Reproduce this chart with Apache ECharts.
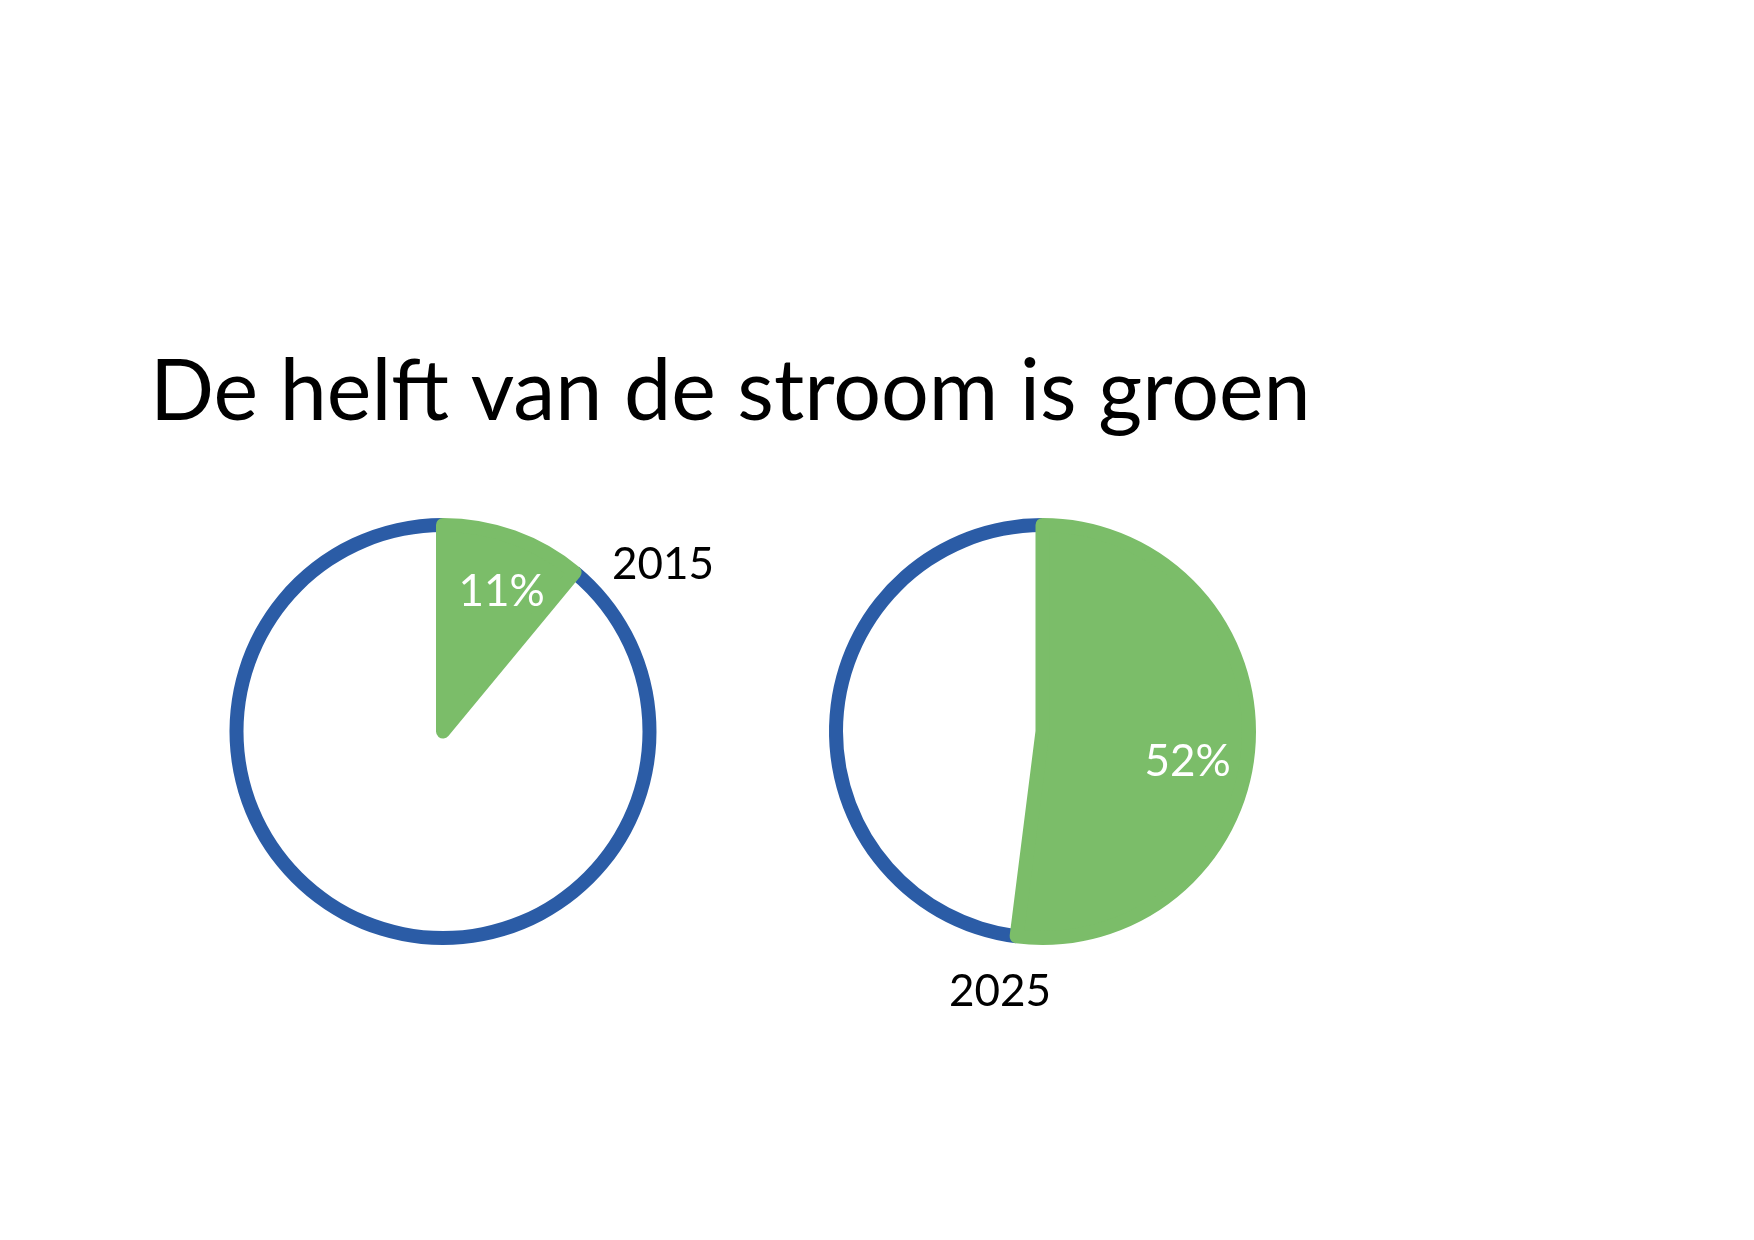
<!DOCTYPE html>
<html><head><meta charset="utf-8">
<script src="https://cdn.jsdelivr.net/npm/echarts@6/dist/echarts.min.js"></script>
<style>html,body{margin:0;padding:0;background:#fff}#c{width:1754px;height:1240px}</style>
</head><body><div id="c"></div>
<script>
const titleText = 'De helft van de stroom is groen';
const years = ['2015', '2025'];
const greenShare = [11, 52];
const otherShare = [89, 48];

const GREEN = '#7BBD69', BLUE = '#2B5CA6';
const centers = [[443, 731.5], [1042.5, 731.5]];
const labelOffsets = [[7, 4], [-7, 21]];
const R = 213.5, RING = 14;
const FONT = 'Lato';

const series = [];
years.forEach((y, i) => {
  const c = centers[i];
  // ring (blue only along non-green part)
  series.push({
    type: 'pie', center: c, radius: [R - RING, R], startAngle: 90, clockwise: true,
    silent: true, label: { show: false }, labelLine: { show: false },
    data: [
      { name: 'groen', value: greenShare[i], itemStyle: { color: 'rgba(0,0,0,0)' } },
      { name: 'overig', value: otherShare[i], itemStyle: { color: BLUE } }
    ]
  });
  // filled green slice (with thick green outline, like the original)
  series.push({
    type: 'pie', center: c, radius: [0, R - RING / 2], startAngle: 90, clockwise: true,
    silent: true, label: { show: false }, labelLine: { show: false },
    data: [
      { name: 'groen', value: greenShare[i], itemStyle: { color: GREEN, borderColor: GREEN, borderWidth: RING, borderJoin: 'round' } },
      { name: 'overig', value: otherShare[i], itemStyle: { color: 'rgba(0,0,0,0)', borderWidth: 0 } }
    ]
  });
  // percent labels
  series.push({
    type: 'pie', center: c, radius: [R * 0.55, R * 0.85], startAngle: 90, clockwise: true,
    silent: true, labelLine: { show: false },
    data: [
      { name: 'groen', value: greenShare[i], itemStyle: { color: 'rgba(0,0,0,0)' },
        label: { show: true, position: 'inside', offset: labelOffsets[i], formatter: p => p.value + '%', color: '#fff', fontSize: 44, fontFamily: FONT } },
      { name: 'overig', value: otherShare[i], itemStyle: { color: 'rgba(0,0,0,0)' }, label: { show: false } }
    ]
  });
});

const chart = echarts.init(document.getElementById('c'), null, { renderer: 'canvas' });
chart.setOption({
  backgroundColor: '#fff',
  animation: false,
  series,
  graphic: [
    { type: 'text', left: 150, top: 351, style: { text: titleText, fontSize: 84.4, fontFamily: FONT, fill: '#000' } },
    { type: 'text', x: 663, y: 565, style: { text: years[0], fontSize: 44, fontFamily: FONT, fill: '#000', align: 'center', verticalAlign: 'middle' } },
    { type: 'text', x: 1000, y: 992, style: { text: years[1], fontSize: 44, fontFamily: FONT, fill: '#000', align: 'center', verticalAlign: 'middle' } }
  ]
});
</script></body></html>
